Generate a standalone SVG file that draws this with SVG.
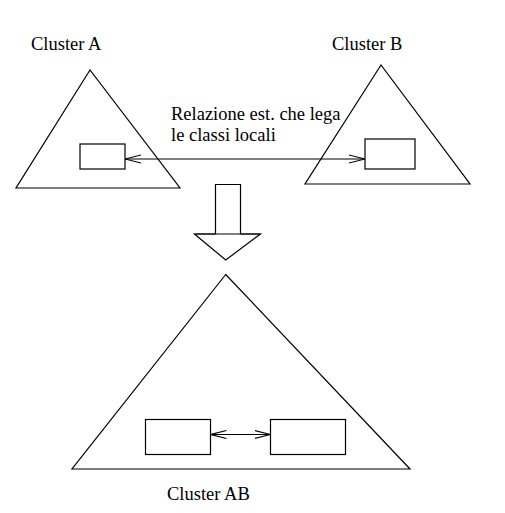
<svg xmlns="http://www.w3.org/2000/svg" width="505" height="513" viewBox="0 0 505 513">
<defs>
<style>
.s{fill:none;stroke:#000;stroke-width:1.2}
.w{fill:#fff;stroke:#000;stroke-width:1.2}
.t{font-family:"Liberation Serif","Times New Roman",serif;font-size:18.5px;fill:#000}
</style>
<marker id="v" viewBox="0 0 16 10" refX="16" refY="5" markerWidth="16" markerHeight="10" markerUnits="userSpaceOnUse" orient="auto-start-reverse">
<path d="M0,1 L16,5 L0,9" fill="none" stroke="#000" stroke-width="1.1"/>
</marker>
</defs>
<rect width="505" height="513" fill="#fff"/>
<g id="clusterA">
<polygon class="s" points="90,70 16,188 180,188"/>
<rect id="classA" class="w" x="80" y="144" width="45" height="25"/>
<text class="t" x="31" y="50">Cluster A</text>
</g>
<g id="clusterB">
<polygon class="s" points="381,65 305,184 470,184"/>
<rect id="classB" class="w" x="365" y="139" width="50" height="30"/>
<text class="t" x="332" y="50">Cluster B</text>
</g>
<g id="label">
<text class="t" x="171" y="120">Relazione est. che lega</text>
<text class="t" x="171" y="141">le classi locali</text>
</g>
<g id="bigArrow">
<path class="w" d="M215.5,234 V184.5 H240.5 V234 H260.5 L225.7,260 L194.5,234 Z"/>
<path class="s" d="M194.5,234 H260.5"/>
</g>
<g id="clusterAB">
<polygon class="s" points="225.7,274.5 72,469 410,469"/>
<rect id="classA2" class="w" x="145.5" y="419.5" width="65" height="35"/>
<rect id="classB2" class="w" x="270.5" y="419.5" width="75" height="35"/>
<text class="t" x="167" y="500">Cluster AB</text>
</g>
<g id="connectors">
<line class="s" x1="125" y1="159" x2="365" y2="159" marker-start="url(#v)" marker-end="url(#v)"/>
<line class="s" x1="210.5" y1="434.5" x2="270.5" y2="434.5" marker-start="url(#v)" marker-end="url(#v)"/>
</g>
</svg>
